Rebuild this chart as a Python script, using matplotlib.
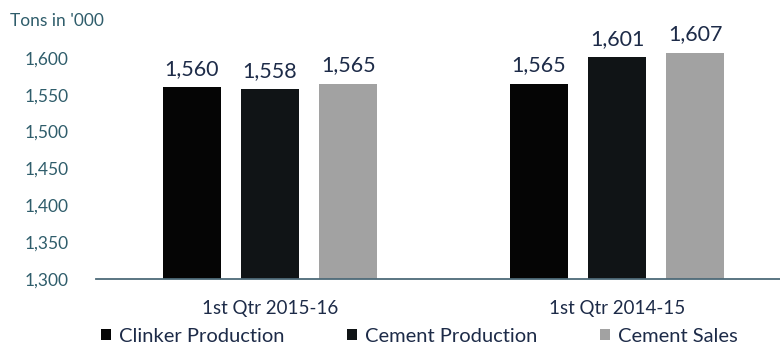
import numpy as np
import matplotlib.pyplot as plt

# data
categories = ['1st Qtr 2015-16', '1st Qtr 2014-15']
series_names = ['Clinker Production', 'Cement Production', 'Cement Sales']
clinker = [1560, 1565]
cement_prod = [1558, 1601]
cement_sales = [1565, 1607]
y_ticks = [1300, 1350, 1400, 1450, 1500, 1550, 1600]

colors = ['#050505', '#101416', '#a2a2a2']
tick_color = '#2f5d6b'
text_color = '#1d2b48'

plt.rcParams['font.family'] = ['Lato', 'DejaVu Sans']

fig = plt.figure(figsize=(7.8, 3.44), dpi=100)
ax = fig.add_axes([0.1237, 0.189, 0.89, 0.750])

x = np.arange(len(categories))
width = 0.167
step = 0.225
for i, (vals, name) in enumerate(zip([clinker, cement_prod, cement_sales], series_names)):
    bars = ax.bar(x + (i - 1) * step, vals, width, color=colors[i], label=name)
    for b, v in zip(bars, vals):
        ax.text(b.get_x() + b.get_width() / 2, v + 11, f'{v:,}',
                ha='center', va='bottom', fontsize=15.5, color=text_color)

ax.set_xlim(-0.5, 1.5)
ax.set_ylim(1300, 1650)
ax.set_yticks(y_ticks)
ax.set_yticklabels([f'{t:,}' for t in y_ticks], color=tick_color, fontsize=12.5)
ax.set_xticks(x)
ax.set_xticklabels(categories, fontsize=13.5, color=text_color)
ax.tick_params(axis='y', length=0, pad=20)
ax.tick_params(axis='x', length=0, pad=15)

for s in ['top', 'right', 'left']:
    ax.spines[s].set_visible(False)
ax.spines['bottom'].set_color('#4d6a78')
ax.spines['bottom'].set_linewidth(1.3)

fig.text(0.013, 0.925, "Tons in '000", color=tick_color, fontsize=12.5)

leg = fig.legend(loc='lower left', bbox_to_anchor=(0.106, -0.055), ncol=3,
                 frameon=False, fontsize=14.5, handlelength=0.5, handleheight=0.5,
                 handletextpad=0.4, columnspacing=3.1)
for t in leg.get_texts():
    t.set_color(text_color)

plt.savefig('out.png', dpi=100)
